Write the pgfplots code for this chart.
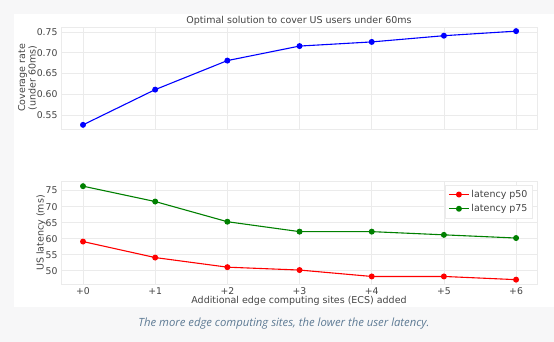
\documentclass[border=0pt]{standalone}
\usepackage{pgfplots}
\pgfplotsset{compat=1.18}
\usepackage{fontspec}
\setmainfont{DejaVu Sans}
\newfontfamily\capfont{Open Sans}
\definecolor{bggray}{HTML}{F7F7F8}
\definecolor{txt}{HTML}{444444}
\definecolor{gridc}{HTML}{EBEBEB}
\definecolor{capc}{HTML}{5D7A94}
\pgfplotsset{
  base/.style={
    scale only axis, width=476pt,
    xmin=-0.305, xmax=6.29,
    xtick={0,1,2,3,4,5,6},
    grid=major,
    major grid style={gridc, line width=0.6pt},
    axis line style={gridc, line width=0.6pt},
    major tick length=0pt,
    tick label style={font=\fontsize{9.3}{10}\selectfont, text=txt},
    /pgf/number format/assume math mode=true,
  }
}
\begin{document}
\begin{tikzpicture}[x=1pt,y=1pt]
\useasboundingbox (0,0) rectangle (554,342);
\fill[bggray] (0,0) rectangle (554,342);
\fill[white] (14,342-307) rectangle (554,342-14);
\begin{axis}[base, at={(61pt,213pt)}, anchor=south west, height=102pt,
  ymin=0.516, ymax=0.762,
  ytick={0.55,0.6,0.65,0.7,0.75},
  yticklabel style={/pgf/number format/.cd, fixed, fixed zerofill, precision=2},
  xticklabels={}]
\addplot[blue, line width=1.1pt, mark=*, mark size=2.4pt] coordinates {
(0,0.526) (1,0.611) (2,0.681) (3,0.716) (4,0.726) (5,0.741) (6,0.752)};
\end{axis}
\begin{axis}[base, at={(61pt,57.7pt)}, anchor=south west, height=102.6pt,
  ymin=45.75, ymax=77.8,
  ytick={50,55,60,65,70,75},
  xticklabels={+0,+1,+2,+3,+4,+5,+6},
  legend style={at={(0.991,0.968)}, anchor=north east, draw=gridc, fill=white,
    font=\fontsize{9.5}{10}\selectfont, text=txt, row sep=1.5pt, inner sep=3pt},
  legend image code/.code={
    \draw[#1, mark repeat=2, mark phase=2] plot coordinates {(0pt,0pt) (10pt,0pt) (20pt,0pt)};},
  legend cell align=left]
\addplot[red, line width=1.1pt, mark=*, mark size=2.4pt] coordinates {
(0,59.1) (1,54.1) (2,51.1) (3,50.2) (4,48.2) (5,48.2) (6,47.2)};
\addlegendentry{latency p50}
\addplot[green!50!black, line width=1.1pt, mark=*, mark size=2.4pt] coordinates {
(0,76.4) (1,71.6) (2,65.3) (3,62.2) (4,62.2) (5,61.2) (6,60.2)};
\addlegendentry{latency p75}
\end{axis}
\node[text=txt, font=\fontsize{9.5}{10}\selectfont] at (299,342-21) {Optimal solution to cover US users under 60ms};
\node[text=txt, font=\fontsize{9.5}{10}\selectfont] at (299,342-300.5) {Additional edge computing sites (ECS) added};
\node[text=txt, font=\fontsize{9.5}{10.5}\selectfont, rotate=90, align=center] at (27.5,342-78) {Coverage rate\\(under 60ms)};
\node[text=txt, font=\fontsize{9.5}{10}\selectfont, rotate=90] at (41,342-233) {US latency (ms)};
\node[text=capc, font=\capfont\itshape\fontsize{11.3}{13}\selectfont] at (284,342-323.3) {The more edge computing sites, the lower the user latency.};
\end{tikzpicture}
\end{document}
